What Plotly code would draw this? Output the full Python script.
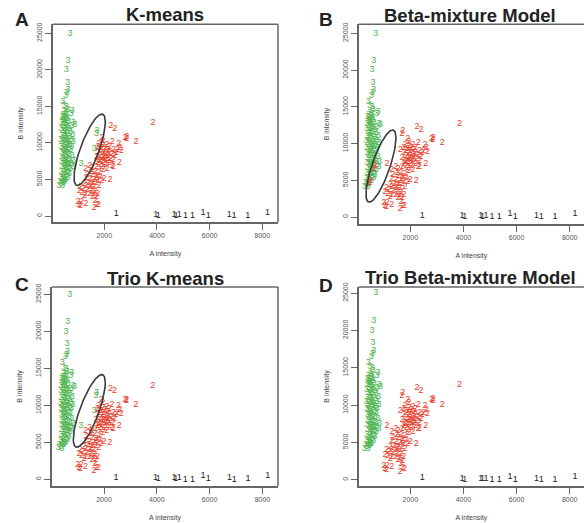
import numpy as np
import plotly.graph_objects as go

PANEL_TITLES = ["K-means", "Beta-mixture Model", "Trio K-means", "Trio Beta-mixture Model"]
PANEL_LETTERS = ["A", "B", "C", "D"]
X_TICKS = [2000, 4000, 6000, 8000]
Y_TICKS = [0, 5000, 10000, 15000, 20000, 25000]

cluster_1 = [(2450,250),(3950,200),(4050,50),(4650,150),(4720,100),(4850,200),(5080,0),
             (5350,0),(5750,450),(5950,50),(6750,200),(6930,0),(7450,50),(8200,450)]

green_core = [(700,25000),(620,21300),(560,20000),(600,18300),(620,17300),(570,16900),(530,16500),
 (420,15700),(470,15100),(560,15000),(610,14600),(780,14400),(740,14000),(480,14200),(430,13900),
 (520,13800),(380,13600),(450,13500),(560,13500),(600,13300),(410,13100),(490,13000),(640,12900),
 (370,12700),(530,12600),(820,12700),(880,12500),(440,12400),(600,12300),(760,12300),(350,12000),
 (500,12000),(660,11900),(410,11700),(570,11600),(720,11500),(460,11300),(630,11200),(380,11000),
 (530,10900),(800,11100),(690,10800),(430,10600),(580,10500),(340,10400),(490,10300),(750,10400),
 (640,10200),(390,10100),(540,10000),(820,10100),(450,9800),(690,9800),(600,9600),(350,9500),
 (510,9400),(760,9500),(420,9200),(640,9200),(560,9000),(470,8900),(720,9000),(380,8700),
 (600,8600),(520,8400),(440,8300),(680,8400),(780,8200),(560,8000),(400,7900),(640,7800),
 (480,7700),(720,7600),(370,7400),(550,7400),(840,7500),(620,7200),(450,7100),(750,7100),
 (520,6900),(400,6700),(820,6800),(580,6500),(470,6300),(720,6400),(620,6100),(360,6000),
 (530,5900),(430,5700),(670,5800),(570,5500),(480,5300),(350,5200),(620,5300),(400,5000),
 (540,4900),(300,4700),(450,4600),(360,4400),(270,4200),(410,4150),(560,14100),(500,13200),
 (450,12800),(560,12100),(480,11500),(520,11000),(600,9900),(500,9100),(560,8300),(500,7200),
 (590,7000),(500,6000),(440,5100)]

red_core = [(3850,12700),(3200,10100),(2850,10800),(2850,10550),(2800,10700),(2250,12300),(2400,11900),
 (1900,10700),(1950,10300),(2300,10100),(2550,9900),(2600,9400),(2500,9000),(2650,8900),(2450,8700),
 (1800,9900),(1950,9700),(2100,9800),(1750,9500),(1900,9300),(2050,9400),(2200,9500),(1850,9000),
 (2000,9000),(2150,9100),(2350,9000),(1750,8700),(1950,8700),(2100,8600),(2300,8500),(1850,8300),
 (2000,8300),(2150,8200),(2400,8200),(1700,8100),(1900,8000),(2050,7900),(2250,7900),(1800,7700),
 (1950,7600),(2150,7600),(2350,7700),(2580,7300),(1750,7300),(2000,7300),(2200,7300),(1850,7000),
 (2050,7000),(2300,6900),(1900,6700),(2100,6500),(2350,6800),(1950,6300),(1550,6600),(1700,6800),
 (1450,6900),(1300,6500),(1500,6100),(1650,6100),(1800,5900),(1350,5700),(1550,5600),(1700,5500),
 (1850,5400),(2000,5100),(2220,4900),(1300,5200),(1450,5100),(1600,5000),(1750,4900),(1900,4800),
 (1400,4600),(1550,4500),(1700,4500),(1250,4400),(1100,4000),(1300,4100),(1450,4000),(1600,4000),
 (1800,4200),(1200,3700),(1350,3600),(1500,3500),(1650,3500),(1050,3400),(1150,3200),(1300,3100),
 (1450,3100),(1600,3000),(1750,3100),(1250,2800),(1700,2600),(1550,2700),(1000,1900),(1050,1500),
 (1100,1400),(1130,1900),(1300,1700),(1650,2100),(1720,1600),(1620,1100),(1780,1500),(2100,7800),
 (1980,8100),(1850,7500),(2200,8700),(1700,5200),(1500,4300)]

# points whose class differs between the panels
switch_high = [(1720,11700),(1690,11300),(1620,9200),(1120,7200)]
switch_low = [(670,7000),(650,6600),(500,5000),(480,4700)]

# panel plot-box edges (px in the 584x523 page)
BOXES = [(52.7, 278.0, 24.3, 222.3), (358.7, 584.0, 24.3, 224.0),
         (52.0, 278.0, 287.0, 486.0), (358.7, 584.0, 287.0, 486.0)]
X_RANGES = [(40, 8596), (57, 8538), (30, 8590), (57, 8538)]
Y_RANGES = [(-860, 26230), (-930, 26230), (-910, 25990), (-820, 25820)]
# mixture contour: centre x, centre y, sd x, sd y, phase lag (None = no contour)
CONTOURS = [(1443, 9070, 595, 4880, 0.68), (895, 6955, 565, 4905, 0.68),
            (1443, 9245, 606, 4905, 0.68), None]
# does the ambiguous group belong to cluster 2 in this panel?
HIGH_IS_RED = [False, True, False, True]
LOW_IS_RED = [False, True, False, False]
TITLE_Y = [15, 16, 278, 277]
TITLE_X = [165, 470, 165, 471]
LETTER_X = [22, 326, 22, 326]
LETTER_Y = [20, 19, 284, 285]

W, H = 584, 523
RED, GREEN, BLACK = "#e8402c", "#4fb54f", "#222222"
AXC = "#666666"

fig = go.Figure()
annotations, shapes = [], []
for i in range(4):
    n = "" if i == 0 else str(i + 1)
    xa, ya = "x" + n, "y" + n
    l, r, t, b = BOXES[i]
    red = list(red_core) + (switch_high if HIGH_IS_RED[i] else []) + (switch_low if LOW_IS_RED[i] else [])
    green = list(green_core) + ([] if HIGH_IS_RED[i] else switch_high) + ([] if LOW_IS_RED[i] else switch_low)
    for pts, label, color in ((green, "3", GREEN), (red, "2", RED), (cluster_1, "1", BLACK)):
        fig.add_trace(go.Scatter(
            x=[p[0] for p in pts], y=[p[1] for p in pts], mode="text",
            text=[label] * len(pts), textposition="middle center",
            textfont=dict(family="Liberation Sans", size=9, color=color),
            xaxis=xa, yaxis=ya, showlegend=False, hoverinfo="skip"))
    if CONTOURS[i]:
        cx, cy, sx, sy, lag = CONTOURS[i]
        t_par = np.linspace(0, 2 * np.pi, 121)
        fig.add_trace(go.Scatter(
            x=cx + sx * np.cos(t_par), y=cy + sy * np.cos(t_par - lag), mode="lines",
            line=dict(color="#3a3a3a", width=1.6),
            xaxis=xa, yaxis=ya, showlegend=False, hoverinfo="skip"))
    axis_common = dict(showgrid=False, zeroline=False, showline=True, linecolor=AXC, linewidth=1.5,
                       ticks="outside", ticklen=6, tickcolor=AXC, tickwidth=1, automargin=False,
                       tickfont=dict(family="Liberation Sans", size=7, color="#555555"))
    fig.update_layout({
        "xaxis" + n: dict(domain=[l / W, r / W], range=X_RANGES[i], tickvals=X_TICKS,
                          ticktext=[str(v) for v in X_TICKS], anchor=ya,
                          mirror=False, title=dict(text="A intensity", standoff=13,
                          font=dict(family="Liberation Sans", size=7, color="#444444")), **axis_common),
        "yaxis" + n: dict(domain=[1 - b / H, 1 - t / H], range=Y_RANGES[i], tickvals=Y_TICKS,
                          ticktext=[str(v) for v in Y_TICKS], anchor=xa,
                          tickangle=-90, mirror=False, title=dict(text="B intensity", standoff=12,
                          font=dict(family="Liberation Sans", size=7, color="#444444")), **axis_common),
    })
    # top and right frame edges; the right edge of B and D falls off the page
    shapes.append(dict(type="line", xref=xa + " domain", yref=ya + " domain", x0=0, x1=1, y0=1, y1=1,
                       line=dict(color=AXC, width=1.5)))
    if r < W:
        shapes.append(dict(type="line", xref=xa + " domain", yref=ya + " domain", x0=1, x1=1, y0=0, y1=1,
                           line=dict(color=AXC, width=1.5)))
    annotations.append(dict(text="<b>%s</b>" % PANEL_TITLES[i], xref="paper", yref="paper",
                            x=TITLE_X[i] / W, y=1 - TITLE_Y[i] / H, showarrow=False,
                            xanchor="center", yanchor="middle",
                            font=dict(family="Liberation Sans", size=18.5, color="#222222")))
    annotations.append(dict(text="<b>%s</b>" % PANEL_LETTERS[i], xref="paper", yref="paper",
                            x=LETTER_X[i] / W, y=1 - LETTER_Y[i] / H, showarrow=False,
                            xanchor="center", yanchor="middle",
                            font=dict(family="Liberation Sans", size=19, color="#222222")))

fig.update_layout(width=W, height=H, margin=dict(l=0, r=0, t=0, b=0), paper_bgcolor="white",
                  plot_bgcolor="white", annotations=annotations, shapes=shapes)
fig.write_html("out.html", config=dict(displayModeBar=False),
               post_script="document.body.style.margin='0';")
